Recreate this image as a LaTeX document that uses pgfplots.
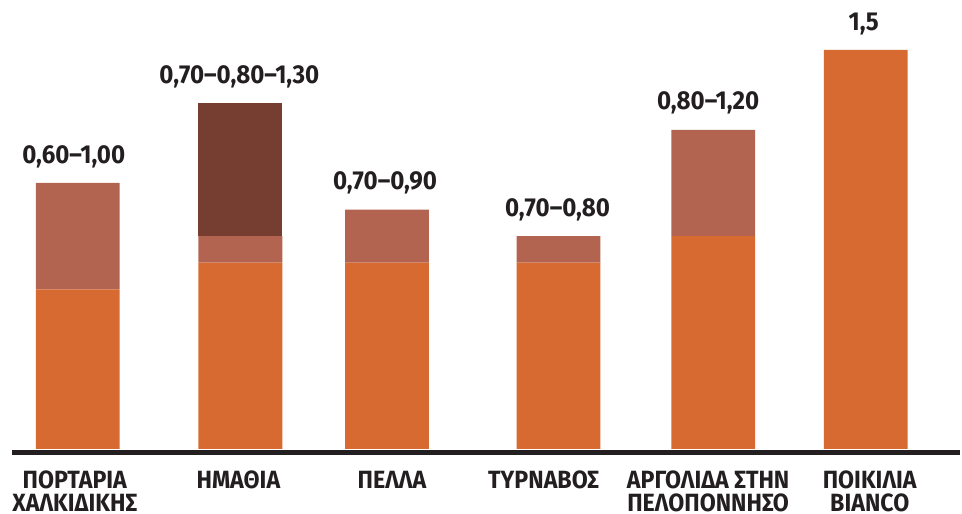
\documentclass[border=0pt]{standalone}
\usepackage{pgfplots}
\pgfplotsset{compat=1.18}
\usepackage{fontspec}
\setmainfont{Fira Sans}[FakeStretch=0.93]
\definecolor{baseorange}{HTML}{D66A30}
\definecolor{midbrown}{HTML}{B36450}
\definecolor{darkbrown}{HTML}{763E30}
\definecolor{txt}{HTML}{231F20}
\tikzset{vlabel/.style={anchor=base, inner sep=0pt, yshift=20pt, text=txt,
    font=\bfseries\fontsize{26}{26}\selectfont}}
\begin{document}
\begin{tikzpicture}
\begin{axis}[
    at={(0,0)}, anchor=south west,
    scale only axis, width=962pt, height=450pt,
    xmin=0, xmax=962, ymin=0, ymax=1.6875,
    ybar stacked, bar width=84pt,
    axis line style={draw=none},
    ytick=\empty,
    major tick length=0pt,
    xtick={75,239,393,545,710,872},
    xticklabels={{ΠΟΡΤΑΡΙΑ\\ΧΑΛΚΙΔΙΚΗΣ},{ΗΜΑΘΙΑ},{ΠΕΛΛΑ},{ΤΥΡΝΑΒΟΣ},{ΑΡΓΟΛΙΔΑ ΣΤΗΝ\\ΠΕΛΟΠΟΝΝΗΣΟ},{ΠΟΙΚΙΛΙΑ\\BIANCO}},
    xticklabel style={align=center, anchor=north, inner sep=0pt, yshift=-22pt,
        font=\bfseries\fontsize{25}{23}\selectfont, text=txt},
    clip=false,
]
\addplot[fill=baseorange, draw=none] coordinates {(78,0.6) (241,0.7) (388,0.7) (560,0.7) (715,0.8) (868,1.5)};
\addplot[fill=midbrown, draw=none] coordinates {(78,0.4) (241,0.1) (388,0.2) (560,0.1) (715,0.4) (868,0)};
\addplot[fill=darkbrown, draw=none] coordinates {(78,0) (241,0.5) (388,0) (560,0) (715,0) (868,0)};
\draw[txt, line width=5pt] (axis cs:12,-0.013) -- (axis cs:962,-0.013);
\node[vlabel] at (axis cs:74,1.0) {0,60–1,00};
\node[vlabel] at (axis cs:240,1.3) {0,70–0,80–1,30};
\node[vlabel] at (axis cs:386,0.9) {0,70–0,90};
\node[vlabel] at (axis cs:559,0.8) {0,70–0,80};
\node[vlabel] at (axis cs:710,1.2) {0,80–1,20};
\node[vlabel] at (axis cs:866,1.5) {1,5};
\end{axis}
\path (0,-65pt) rectangle (962pt,450pt);
\end{tikzpicture}
\end{document}
